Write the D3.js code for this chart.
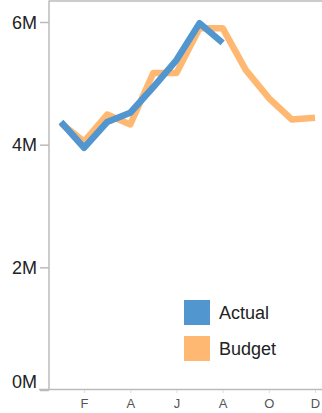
<!DOCTYPE html>
<html>
<head>
<meta charset="utf-8">
<script src="https://cdn.jsdelivr.net/npm/d3@7"></script>
<style>
  body { margin: 0; background: #fff; }
  svg { display: block; font-family: "Liberation Sans", Arial, sans-serif; }
</style>
</head>
<body>
<div id="chart"></div>
<script>
// data (values in dollars)
const months = ['J', 'F', 'M', 'A', 'M', 'J', 'J', 'A', 'S', 'O', 'N', 'D'];
const actual = [4.37e6, 3.95e6, 4.37e6, 4.52e6, 4.94e6, 5.38e6, 5.98e6, 5.66e6];
const budget = [4.35e6, 4.05e6, 4.49e6, 4.33e6, 5.17e6, 5.17e6, 5.9e6, 5.9e6, 5.22e6, 4.76e6, 4.41e6, 4.44e6];
const yTicks = [0, 2e6, 4e6, 6e6];
const xTickIdx = [1, 3, 5, 7, 9, 11];
const series = [
  { name: 'Actual', values: actual, color: '#5296d0' },
  { name: 'Budget', values: budget, color: '#ffb872' }
];

const width = 322;
const height = 413;

const svg = d3.select('#chart')
  .append('svg')
  .attr('width', width)
  .attr('height', height);

const xScale = d3.scaleLinear().domain([0, 11]).range([61, 315]);
const yScale = d3.scaleLinear().domain([0, 6e6]).range([390, 22]);

// frame lines
svg.append('line')
  .attr('x1', 49).attr('x2', 49).attr('y1', 0.5).attr('y2', 390)
  .attr('stroke', '#bbb').attr('stroke-width', 1.5);
svg.append('line')
  .attr('x1', 49).attr('x2', width).attr('y1', 1).attr('y2', 1)
  .attr('stroke', '#bbb').attr('stroke-width', 1.5);
svg.append('line')
  .attr('x1', 39).attr('x2', width).attr('y1', 389.5).attr('y2', 389.5)
  .attr('stroke', '#bbb').attr('stroke-width', 1.5);

// y axis
const yAxis = svg.append('g')
  .attr('transform', 'translate(49,0)')
  .call(d3.axisLeft(yScale)
    .tickValues(yTicks)
    .tickSize(9)
    .tickPadding(3)
    .tickFormat(d => (d / 1e6) + 'M'));
yAxis.select('.domain').remove();
yAxis.selectAll('.tick line').attr('stroke', '#bbb').attr('stroke-width', 1.5);
yAxis.selectAll('.tick text')
  .attr('fill', '#222')
  .attr('font-size', 18)
  .attr('dy', d => d === 0 ? '-0.15em' : '0.34em');

// x axis
const xAxis = svg.append('g')
  .attr('transform', 'translate(0,390)')
  .call(d3.axisBottom(xScale)
    .tickValues(xTickIdx)
    .tickSize(3)
    .tickPadding(6)
    .tickFormat(i => months[i]));
xAxis.select('.domain').remove();
xAxis.selectAll('.tick line').attr('stroke', '#ddd');
xAxis.selectAll('.tick text')
  .attr('fill', '#555')
  .attr('font-size', 13);

// lines (budget drawn under actual)
const line = d3.line()
  .x((d, i) => xScale(i))
  .y(d => yScale(d));

svg.append('g')
  .selectAll('path')
  .data(series.slice().reverse())
  .join('path')
  .attr('d', d => line(d.values))
  .attr('fill', 'none')
  .attr('stroke', d => d.color)
  .attr('stroke-width', 6.5)
  .attr('stroke-linejoin', 'round')
  .attr('stroke-linecap', 'butt');

// legend
const legend = svg.append('g')
  .attr('transform', 'translate(184,300)')
  .selectAll('g')
  .data(series)
  .join('g')
  .attr('transform', (d, i) => `translate(0,${i * 36})`);

legend.append('rect')
  .attr('width', 26)
  .attr('height', 25)
  .attr('fill', d => d.color);

legend.append('text')
  .attr('x', 35)
  .attr('y', 13)
  .attr('dy', '0.35em')
  .attr('font-size', 18)
  .attr('fill', '#222')
  .text(d => d.name);
</script>
</body>
</html>
